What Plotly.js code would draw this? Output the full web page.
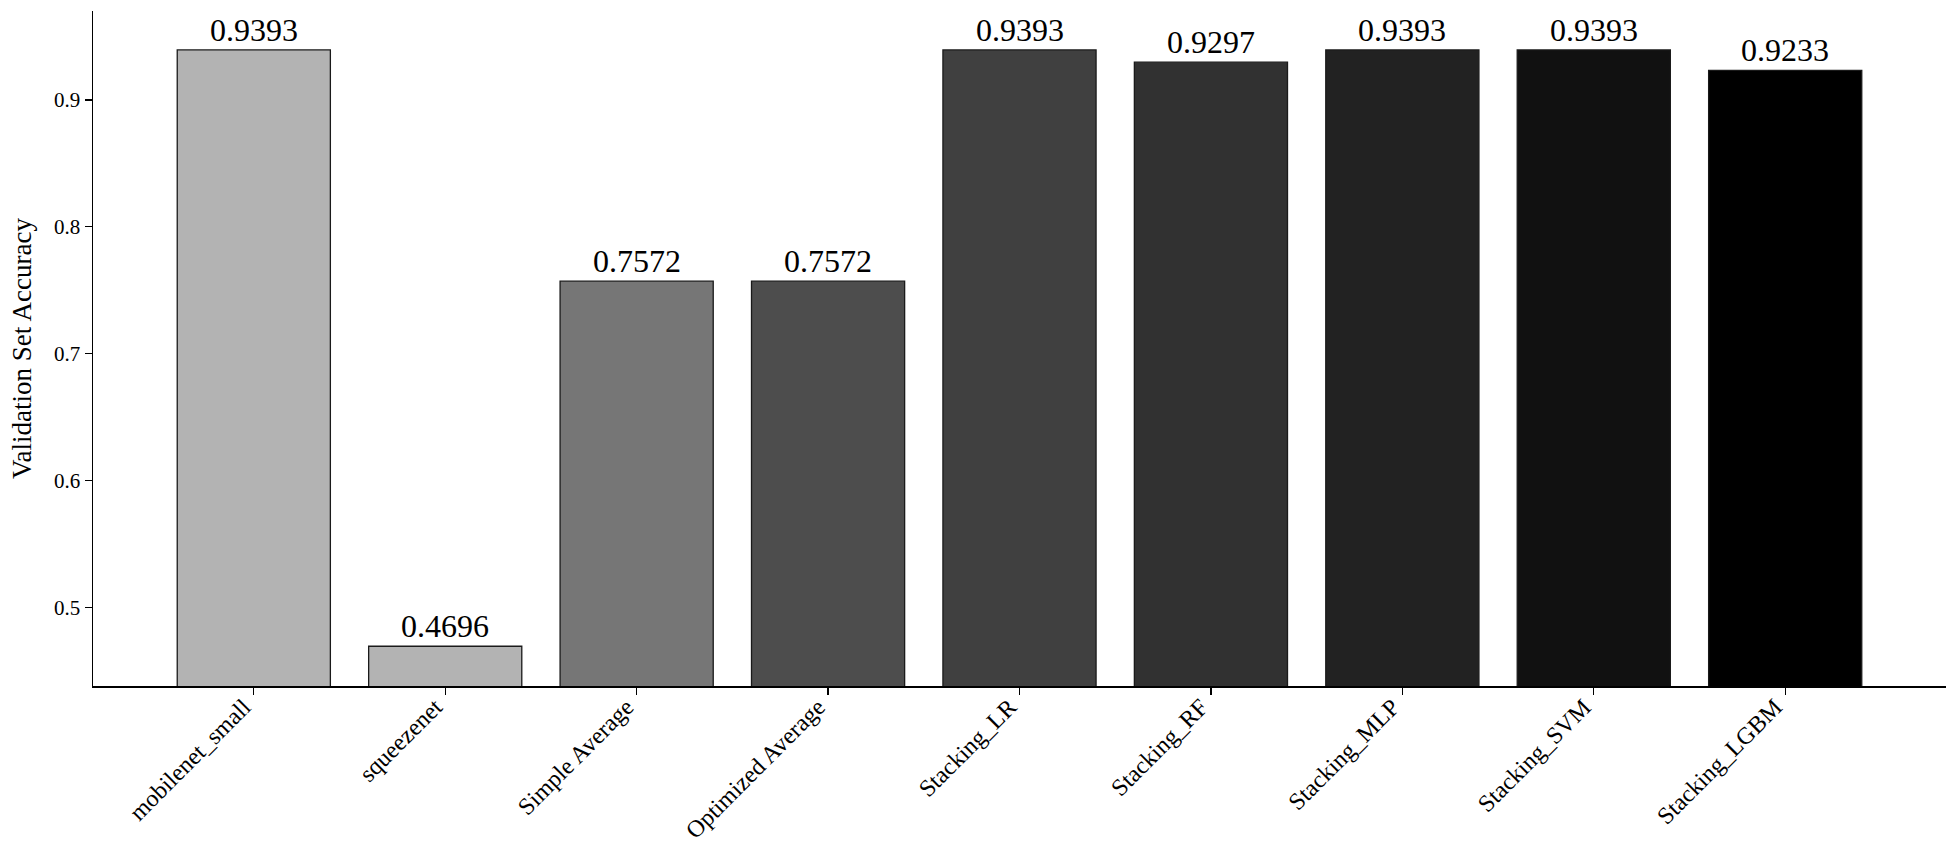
<!DOCTYPE html>
<html>
<head>
<meta charset="utf-8">
<script src="https://cdn.plot.ly/plotly-3.0.1.min.js"></script>
<style>html,body{margin:0;padding:0;background:#fff;}#chart{width:1958px;height:854px;}</style>
</head>
<body>
<div id="chart"></div>
<script>
const categories = ["mobilenet_small", "squeezenet", "Simple Average", "Optimized Average", "Stacking_LR", "Stacking_RF", "Stacking_MLP", "Stacking_SVM", "Stacking_LGBM"];
const accuracy = [0.9393, 0.4696, 0.7572, 0.7572, 0.9393, 0.9297, 0.9393, 0.9393, 0.9233];
const barColors = ["#b3b3b3", "#b3b3b3", "#767676", "#4d4d4d", "#404040", "#313131", "#222222", "#111111", "#000000"];
const yTicks = [0.5, 0.6, 0.7, 0.8, 0.9];

const serif = "Liberation Serif";

const trace = {
  type: "bar",
  x: categories.map((c, i) => i),
  y: accuracy,
  width: 0.8,
  marker: { color: barColors, line: { color: "#1a1a1a", width: 1.3 } },
  hoverinfo: "skip"
};

const annotations = accuracy.map((v, i) => ({
  x: i, y: v, xref: "x", yref: "y",
  text: v.toFixed(4),
  showarrow: false,
  yanchor: "bottom",
  yshift: 0,
  font: { family: serif, size: 32, color: "#000" }
}));

const layout = {
  width: 1958, height: 854,
  margin: { l: 93, r: 12, t: 11, b: 168 },
  paper_bgcolor: "#fff", plot_bgcolor: "#fff",
  showlegend: false,
  bargap: 0.2,
  font: { family: serif, color: "#000" },
  xaxis: {
    range: [-0.84, 8.84],
    tickmode: "array",
    tickvals: categories.map((c, i) => i),
    ticktext: categories,
    tickangle: -45,
    tickfont: { family: serif, size: 24, color: "#000" },
    ticks: "outside", ticklen: 7, tickwidth: 1.3, tickcolor: "#000",
    ticklabelstandoff: -11,
    ticklabelshift: -10,
    showline: true, linecolor: "#000", linewidth: 1.5,
    showgrid: false, zeroline: false, automargin: false
  },
  yaxis: {
    range: [0.4383, 0.970],
    tickmode: "array",
    tickvals: yTicks,
    ticktext: yTicks.map(v => v.toFixed(1)),
    tickfont: { family: serif, size: 21, color: "#000" },
    ticks: "outside", ticklen: 7, tickwidth: 1.3, tickcolor: "#000",
    showline: true, linecolor: "#000", linewidth: 1.5,
    showgrid: false, zeroline: false, automargin: false,
    title: { text: "Validation Set Accuracy", font: { family: serif, size: 27, color: "#000" }, standoff: 14 }
  },
  annotations: annotations
};

Plotly.newPlot("chart", [trace], layout, { displayModeBar: false, staticPlot: true });
</script>
</body>
</html>
